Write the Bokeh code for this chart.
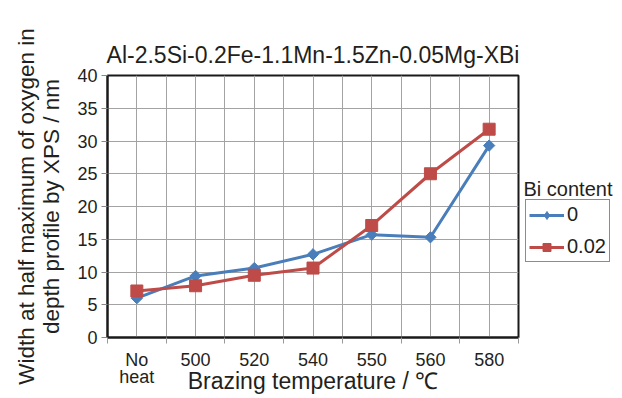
import math
from bokeh.plotting import figure
from bokeh.layouts import row
from bokeh.models import (FactorRange, Range1d, LinearAxis, FixedTicker, Grid,
                          Legend, LegendItem, Label)
from bokeh.embed import file_html
from bokeh.resources import INLINE

# ---- data ----
temps = ["No heat", "500", "520", "540", "550", "560", "580"]
tick_labels = ["No\nheat", "500", "520", "540", "550", "560", "580"]
bi_0 = [6.0, 9.4, 10.6, 12.7, 15.7, 15.3, 29.3]
bi_002 = [7.1, 7.9, 9.5, 10.6, 17.1, 25.0, 31.8]
series_names = ["0", "0.02"]
legend_title = "Bi content"
y_ticks = [0, 5, 10, 15, 20, 25, 30, 35, 40]

FONT = "Liberation Sans"
TXT = "#231f20"
GRID = "#a3a3a3"
DARK = "#1a1a1a"
BLUE = "#4a7ebb"
RED = "#be4b48"
H = 396
DIAMOND = dict(marker="square", size=8, angle=math.pi / 4,
               fill_color=BLUE, line_color=BLUE)
SQUARE = dict(marker="square", size=12, fill_color=RED, line_color=RED)

yr = Range1d(0, 40)
p = figure(width=520, height=H, x_range=FactorRange(factors=temps),
           y_range=yr, x_axis_type=None,
           output_backend="svg", toolbar_location=None,
           min_border_left=107, min_border_right=2,
           min_border_top=75, min_border_bottom=59)

p.title.text = "Al-2.5Si-0.2Fe-1.1Mn-1.5Zn-0.05Mg-XBi"
p.title.text_font = FONT
p.title.text_font_size = "23px"
p.title.text_font_style = "normal"
p.title.text_color = TXT
p.title.align = "center"
p.title.standoff = 15

p.outline_line_color = DARK
p.outline_line_width = 2

# x axis: labels at category centres, ticks at category boundaries
centres = [i + 0.5 for i in range(len(temps))]
bounds = [float(i) for i in range(len(temps) + 1)]
xticker = FixedTicker(ticks=centres, minor_ticks=bounds)
xaxis = LinearAxis(ticker=xticker,
                   major_label_overrides={c: lab for c, lab in zip(centres, tick_labels)})
xaxis.axis_line_color = DARK
xaxis.axis_line_width = 2
xaxis.major_tick_line_color = None
xaxis.major_tick_out = 6
xaxis.major_tick_in = 0
xaxis.minor_tick_line_color = "#999999"
xaxis.minor_tick_out = 6
xaxis.minor_tick_in = 0
xaxis.major_label_standoff = 6
xaxis.major_label_text_font = FONT
xaxis.major_label_text_font_size = "18px"
xaxis.major_label_text_color = TXT
xaxis.major_label_text_line_height = 0.85
xaxis.axis_label = "Brazing temperature / \u2103"
xaxis.axis_label_text_font = FONT
xaxis.axis_label_text_font_size = "23px"
xaxis.axis_label_text_font_style = "normal"
xaxis.axis_label_text_color = TXT
xaxis.axis_label_standoff = -22
p.add_layout(xaxis, "below")

xgrid = Grid(dimension=0, ticker=xticker, grid_line_color=GRID,
             minor_grid_line_color=GRID)
p.add_layout(xgrid)

yaxis = p.yaxis[0]
yaxis.ticker = FixedTicker(ticks=y_ticks)
yaxis.axis_line_color = DARK
yaxis.axis_line_width = 2
yaxis.major_tick_line_color = "#888888"
yaxis.major_tick_out = 6
yaxis.major_tick_in = 0
yaxis.minor_tick_line_color = None
yaxis.major_label_standoff = 4
yaxis.major_label_text_font = FONT
yaxis.major_label_text_font_size = "18px"
yaxis.major_label_text_color = TXT
yaxis.axis_label = "Width at half maximum of oxygen in\ndepth profile by XPS / nm"
yaxis.axis_label_text_font = FONT
yaxis.axis_label_text_font_size = "22.5px"
yaxis.axis_label_text_font_style = "normal"
yaxis.axis_label_text_color = TXT
yaxis.axis_label_text_line_height = 1.0
yaxis.axis_label_standoff = 10
p.ygrid.grid_line_color = GRID
p.ygrid.ticker = FixedTicker(ticks=y_ticks)

p.line(temps, bi_0, line_color=BLUE, line_width=3)
p.scatter(temps, bi_0, **DIAMOND)
p.line(temps, bi_002, line_color=RED, line_width=3)
p.scatter(temps, bi_002, **SQUARE)

# ---- legend panel (separate canvas so it is not clipped by the main frame) ----
LW = 100
NAN = float("nan")
q = figure(width=LW, height=H, x_range=Range1d(0, LW), y_range=yr,
           x_axis_type=None, y_axis_type=None, output_backend="svg",
           toolbar_location=None, min_border_left=0, min_border_right=0,
           min_border_top=75, min_border_bottom=59)
q.title.visible = False
q.outline_line_color = None
q.xgrid.visible = False
q.ygrid.visible = False

ql0 = q.line([NAN], [NAN], line_color=BLUE, line_width=3)
qs0 = q.scatter([NAN], [NAN], marker="diamond", size=12,
                fill_color=BLUE, line_color=BLUE)
ql1 = q.line([NAN], [NAN], line_color=RED, line_width=3)
qs1 = q.scatter([NAN], [NAN], **SQUARE)

legend = Legend(items=[LegendItem(label=series_names[0], renderers=[ql0, qs0]),
                       LegendItem(label=series_names[1], renderers=[ql1, qs1])],
                location=(5, 75))
legend.label_text_font = FONT
legend.label_text_font_size = "20px"
legend.label_text_color = TXT
legend.border_line_color = DARK
legend.border_line_width = 1
legend.background_fill_color = "white"
legend.padding = 3
legend.margin = 0
legend.spacing = 9
legend.glyph_width = 35
legend.glyph_height = 20
legend.label_height = 20
legend.label_standoff = 3
q.add_layout(legend)

q.add_layout(Label(x=3, y=22.6, text=legend_title, text_font=FONT,
                   text_font_size="20px", text_color=TXT,
                   text_baseline="alphabetic"))

open("out.html", "w").write(file_html(row(p, q), INLINE))
